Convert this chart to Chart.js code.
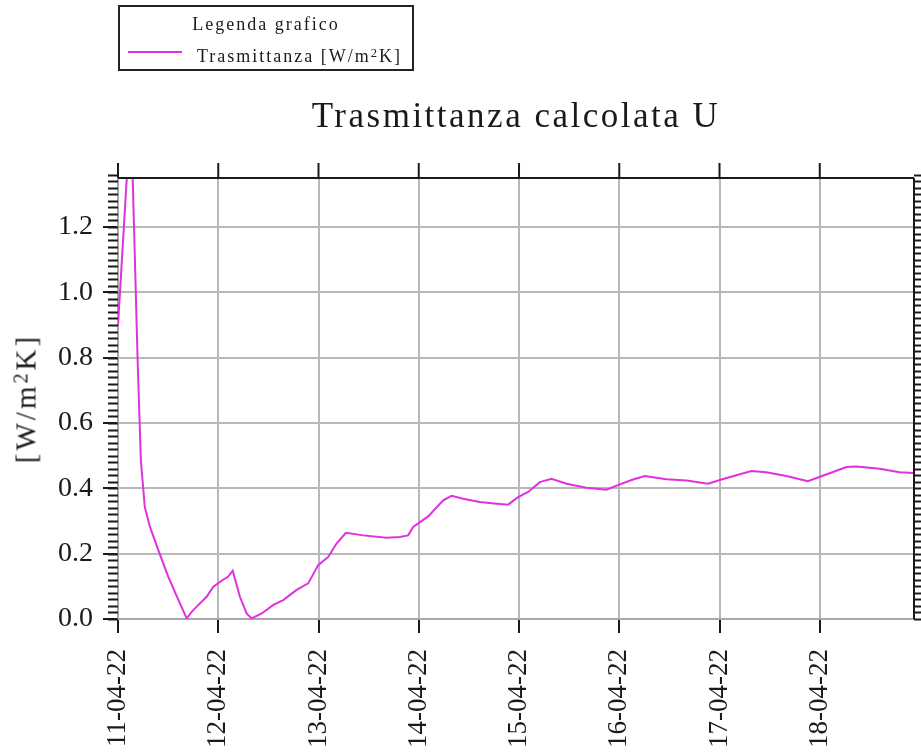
<!DOCTYPE html>
<html>
<head>
<meta charset="utf-8">
<script src="https://cdn.jsdelivr.net/npm/chart.js@4"></script>
<style>
  body { margin: 0; background: #fff; }
  #wrap { position: relative; width: 921px; height: 756px; font-family: 'Liberation Serif', serif; color: #1a1a1a; }
  canvas { position: absolute; left: 0; top: 0; }
  .legend { position: absolute; left: 118px; top: 5px; width: 292px; height: 62px; border: 2px solid #222; }
  .legend .head { position: absolute; left: 0; width: 100%; top: 8px; text-align: center; font-size: 18px; line-height: 18px; letter-spacing: 2px; }
  .legend .swatch { position: absolute; left: 8px; width: 54px; top: 44px; height: 2px; background: #e030e0; }
  .legend .item { position: absolute; left: 77px; top: 40px; font-size: 18px; line-height: 18px; letter-spacing: 2px; white-space: nowrap; }
  sup { font-size: 0.7em; vertical-align: 0.4em; line-height: 0; }
  .title { position: absolute; left: 216px; width: 600px; top: 98px; text-align: center; font-size: 35px; line-height: 35px; letter-spacing: 2.5px; white-space: nowrap; }
  .ytitle { position: absolute; left: -74px; width: 200px; top: 384px; height: 29px; text-align: center; font-size: 29px; line-height: 29px; letter-spacing: 3px; transform: rotate(-90deg); white-space: nowrap; }
</style>
</head>
<body>
<div id="wrap">
  <canvas id="chart" width="921" height="756"></canvas>
  <div class="legend">
    <div class="head">Legenda grafico</div>
    <div class="swatch"></div>
    <div class="item">Trasmittanza [W/m<sup>2</sup>K]</div>
  </div>
  <div class="title">Trasmittanza calcolata U</div>
  <div class="ytitle">[W/m<sup>2</sup>K]</div>
</div>
<script>
// giorni trascorsi dal 11-04-22 00:00
const dayOffsets = [
  0.000, 0.128, 0.196, 0.228, 0.267, 0.319, 0.402, 0.502, 0.600, 0.685,
  0.735, 0.785, 0.884, 0.951, 1.034, 1.100, 1.144, 1.216, 1.283, 1.333,
  1.433, 1.549, 1.648, 1.782, 1.897, 1.997, 2.097, 2.180, 2.273, 2.446,
  2.679, 2.810, 2.894, 2.944, 3.094, 3.244, 3.327, 3.443, 3.609, 3.776,
  3.891, 3.991, 4.091, 4.208, 4.324, 4.474, 4.673, 4.872, 5.005, 5.138,
  5.254, 5.470, 5.670, 5.885, 6.019, 6.168, 6.318, 6.467, 6.667, 6.882,
  7.016, 7.132, 7.265, 7.365, 7.597, 7.796, 7.940
];
// trasmittanza U [W/m2K]
const trasmittanza = [
  0.898, 1.560, 0.790, 0.486, 0.343, 0.282, 0.211, 0.129, 0.060, 0.002,
  0.022, 0.038, 0.068, 0.099, 0.117, 0.130, 0.148, 0.068, 0.017, 0.002,
  0.017, 0.043, 0.058, 0.089, 0.109, 0.165, 0.190, 0.231, 0.264, 0.256,
  0.249, 0.251, 0.256, 0.282, 0.314, 0.363, 0.377, 0.368, 0.358, 0.353,
  0.350, 0.373, 0.389, 0.419, 0.429, 0.414, 0.402, 0.396, 0.412, 0.427,
  0.438, 0.428, 0.424, 0.414, 0.427, 0.440, 0.453, 0.449, 0.438, 0.422,
  0.437, 0.450, 0.465, 0.467, 0.460, 0.449, 0.447
];
const dateLabels = ['11-04-22', '12-04-22', '13-04-22', '14-04-22', '15-04-22', '16-04-22', '17-04-22', '18-04-22'];
const dateTicks = [0, 1, 2, 3, 4, 5, 6, 7];
const yTicks = [0, 0.2, 0.4, 0.6, 0.8, 1.0, 1.2];
const yMinorStep = 0.02;

Chart.defaults.font.family = "'Liberation Serif', serif";

// cornice: bordo nero sopra e a destra, tacche secondarie
const frameTicks = {
  id: 'frameTicks',
  afterDraw(chart) {
    const { ctx, chartArea: a, scales: { x, y } } = chart;
    ctx.save();
    ctx.strokeStyle = '#1a1a1a';
    ctx.lineWidth = 2;
    ctx.beginPath();
    ctx.moveTo(a.left, a.top);
    ctx.lineTo(a.right, a.top);
    ctx.moveTo(a.right, a.top);
    ctx.lineTo(a.right, a.bottom);
    dateTicks.forEach(d => {
      const px = x.getPixelForValue(d);
      ctx.moveTo(px, a.top);
      ctx.lineTo(px, a.top - 15);
    });
    const n = Math.round(y.max / yMinorStep);
    for (let i = 0; i <= n; i++) {
      const py = Math.round(y.getPixelForValue(i * yMinorStep)) + 0.5;
      ctx.moveTo(a.left - 10, py);
      ctx.lineTo(a.left, py);
      ctx.moveTo(a.right, py);
      ctx.lineTo(a.right + 7, py);
    }
    ctx.stroke();
    ctx.restore();
  }
};

new Chart(document.getElementById('chart'), {
  type: 'line',
  data: {
    datasets: [{
      label: 'Trasmittanza [W/m²K]',
      data: dayOffsets.map((d, i) => ({ x: d, y: trasmittanza[i] })),
      borderColor: '#e030e0',
      borderWidth: 2,
      pointRadius: 0,
      tension: 0,
      fill: false
    }]
  },
  options: {
    responsive: false,
    animation: false,
    layout: { padding: { top: 178, right: 7, left: 0, bottom: 0 } },
    plugins: {
      legend: { display: false },
      title: { display: false },
      tooltip: { enabled: false }
    },
    scales: {
      x: {
        type: 'linear',
        min: 0,
        max: 7.94,
        afterBuildTicks: s => { s.ticks = dateTicks.map(v => ({ value: v })); },
        afterFit: s => { s.height = 137; },
        ticks: {
          autoSkip: false,
          minRotation: 90,
          maxRotation: 90,
          padding: 16,
          color: '#1a1a1a',
          font: { size: 27 },
          callback: (v, i) => dateLabels[i]
        },
        grid: { color: '#b8b8b8', lineWidth: 2, tickLength: 14, tickColor: '#1a1a1a', tickWidth: 2 },
        border: { color: '#a8a8a8', width: 2 }
      },
      y: {
        type: 'linear',
        min: 0,
        max: 1.35,
        afterBuildTicks: s => { s.ticks = yTicks.map(v => ({ value: v })); },
        afterFit: s => { s.width = 118; },
        ticks: {
          padding: 10,
          color: '#1a1a1a',
          font: { size: 28 },
          callback: v => v.toFixed(1)
        },
        grid: { color: '#b8b8b8', lineWidth: 2, tickLength: 15, tickColor: '#1a1a1a', tickWidth: 2 },
        border: { color: '#a8a8a8', width: 2 }
      }
    }
  },
  plugins: [frameTicks]
});
</script>
</body>
</html>
